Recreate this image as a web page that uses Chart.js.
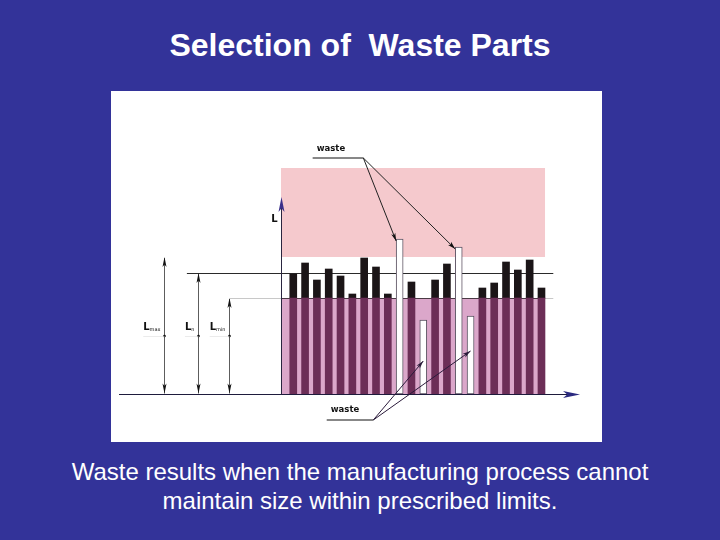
<!DOCTYPE html>
<html>
<head>
<meta charset="utf-8">
<script src="https://cdn.jsdelivr.net/npm/chart.js@4.4.0/dist/chart.umd.min.js"></script>
<style>
  html, body { margin: 0; padding: 0; }
  body { width: 720px; height: 540px; background: #333399; position: relative; overflow: hidden;
         font-family: "Liberation Sans", Arial, sans-serif; color: #fff; }
  #title { position: absolute; left: 0; top: 25px; width: 720px; text-align: center;
           font-weight: bold; font-size: 32px; line-height: 40px; white-space: pre; }
  #caption { position: absolute; left: 0; top: 457px; width: 720px; text-align: center;
             font-size: 24px; line-height: 29px; }
  #panel { position: absolute; left: 111px; top: 91px; width: 491px; height: 351px; background: #fff; }
</style>
</head>
<body>
<div id="title">Selection of  Waste Parts</div>
<div id="panel"><canvas id="parts" width="491" height="351"></canvas></div>
<div id="caption">Waste results when the manufacturing process cannot<br>maintain size within prescribed limits.</div>
<script>
// measured size L of each part, in order of production
const PARTS = ["1", "2", "3", "4", "5", "6", "7", "8", "9", "10", "11",
  "12", "13", "14", "15", "16", "17", "18", "19", "20", "21", "22"];
const SIZES = [120, 131, 114, 125, 118, 100, 136, 127, 100, 155, 112,
  74, 114, 130, 147, 78, 106, 111, 132, 124, 134, 106];

// tolerance limits
const L_MIN = 96;
const L_N = 121;
const L_MAX = 137;
const L_TOP = 226;

const isWaste = (v) => v < L_MIN || v > L_MAX;
const good = SIZES.map((v, i) => ({ v, i })).filter((p) => !isWaste(p.v));
const waste = SIZES.map((v, i) => ({ v, i })).filter((p) => isWaste(p.v));

const ZONE_X0 = -1.04;
const ZONE_X1 = 21.3;

function arrowHead(ctx, x1, y1, x2, y2, len, half, color) {
  const a = Math.atan2(y2 - y1, x2 - x1);
  ctx.save();
  ctx.translate(x2, y2);
  ctx.rotate(a);
  ctx.fillStyle = color;
  ctx.beginPath();
  ctx.moveTo(0, 0);
  ctx.lineTo(-len, -half);
  ctx.lineTo(-len * 0.75, 0);
  ctx.lineTo(-len, half);
  ctx.closePath();
  ctx.fill();
  ctx.restore();
}

function line(ctx, x1, y1, x2, y2, color, w) {
  ctx.strokeStyle = color;
  ctx.lineWidth = w || 1;
  ctx.beginPath();
  ctx.moveTo(x1, y1);
  ctx.lineTo(x2, y2);
  ctx.stroke();
}

const sketch = {
  id: "sketch",
  beforeDatasetsDraw(chart) {
    const { ctx } = chart;
    const x = chart.scales.x, y = chart.scales.y;
    const x0 = x.getPixelForValue(ZONE_X0), x1 = x.getPixelForValue(ZONE_X1);
    ctx.save();
    // over-size zone
    ctx.fillStyle = "#f5c9cd";
    ctx.fillRect(x0, y.getPixelForValue(L_TOP), x1 - x0, y.getPixelForValue(L_MAX) - y.getPixelForValue(L_TOP));
    // under-size zone
    ctx.fillStyle = "#dba7ca";
    ctx.fillRect(x0, y.getPixelForValue(L_MIN), x1 - x0, y.getPixelForValue(0) - y.getPixelForValue(L_MIN));
    // nominal and min lines
    const yn = Math.round(y.getPixelForValue(L_N)) + 0.5;
    line(ctx, x.getPixelForValue(-9), yn, x.getPixelForValue(22), yn, "#2a2a2a", 1);
    const ym = Math.round(y.getPixelForValue(L_MIN)) + 0.5;
    line(ctx, x.getPixelForValue(-5.35), ym, x.getPixelForValue(22), ym, "#c8c8c8", 1);
    line(ctx, x0, ym, x1, ym, "#4a3a44", 1);
    ctx.restore();
  },
  afterDatasetsDraw(chart) {
    const { ctx } = chart;
    const x = chart.scales.x, y = chart.scales.y;
    const y0 = Math.round(y.getPixelForValue(0)) + 0.5;
    ctx.save();
    // base line with arrow
    const bx0 = x.getPixelForValue(-14.74), bx1 = x.getPixelForValue(24.26);
    line(ctx, bx0, y0, bx1 - 8, y0, "#1e1b3c", 1.2);
    arrowHead(ctx, bx0, y0, bx1, y0, 17, 3.5, "#2b2a80");
    // L axis with arrow
    const ax = Math.round(x.getPixelForValue(ZONE_X0)) + 0.5;
    const ayTop = y.getPixelForValue(197);
    line(ctx, ax, y0, ax, ayTop + 6, "#2a2540", 1);
    arrowHead(ctx, ax, y0, ax, ayTop, 15, 3, "#3a2f8a");
    ctx.fillStyle = "#111";
    ctx.font = "bold 10px 'DejaVu Sans'";
    ctx.textAlign = "right";
    ctx.textBaseline = "alphabetic";
    ctx.fillText("L", ax - 4, y.getPixelForValue(172));

    // dimension arrows
    const dims = [
      { at: -10.91, top: L_MAX, sub: "max" },
      { at: -8.09, top: L_N, sub: "n" },
      { at: -5.44, top: L_MIN, sub: "min" },
    ];
    dims.forEach((d) => {
      const dx = Math.round(x.getPixelForValue(d.at)) + 0.5;
      const dt = y.getPixelForValue(d.top);
      line(ctx, dx, y0 - 1, dx, dt + 1, "#333", 0.8);
      arrowHead(ctx, dx, y0, dx, dt, 10, 2, "#111");
      arrowHead(ctx, dx, dt, dx, y0 - 1, 10, 2, "#111");
      const dy = y.getPixelForValue(58);
      ctx.fillStyle = "#111";
      ctx.beginPath();
      ctx.arc(dx, dy, 1.3, 0, Math.PI * 2);
      ctx.fill();
      ctx.font = "5px 'DejaVu Sans'";
      const sw = ctx.measureText(d.sub).width;
      ctx.font = "bold 10px 'DejaVu Sans'";
      const lw = ctx.measureText("L").width;
      const right = dx - 4;
      ctx.textAlign = "left";
      ctx.fillText("L", right - sw - lw, dy - 6);
      ctx.font = "5px 'DejaVu Sans'";
      ctx.fillText(d.sub, right - sw, dy - 5);
      line(ctx, right - sw - lw, dy + 0.5, dx, dy + 0.5, "#dddddd", 0.6);
    });

    // waste callouts
    const bw = 3.5;
    const top = [9, 14].map((i) => [x.getPixelForValue(i) - bw, y.getPixelForValue(SIZES[i]) + 2]);
    const hubT = [x.getPixelForValue(5.93), y.getPixelForValue(236)];
    line(ctx, x.getPixelForValue(1.64), hubT[1], hubT[0], hubT[1], "#111", 1);
    top.forEach((p) => {
      line(ctx, hubT[0], hubT[1], p[0], p[1], "#222", 1);
      arrowHead(ctx, hubT[0], hubT[1], p[0], p[1], 8, 2.2, "#111");
    });
    const bottom = [[11, 33], [15, 43]].map((t) => [x.getPixelForValue(t[0]), y.getPixelForValue(t[1])]);
    const hubB = [x.getPixelForValue(6.77), y.getPixelForValue(-26)];
    line(ctx, x.getPixelForValue(2.83), hubB[1], hubB[0], hubB[1], "#111", 1);
    bottom.forEach((p) => {
      line(ctx, hubB[0], hubB[1], p[0], p[1], "#2a1a3a", 1);
      arrowHead(ctx, hubB[0], hubB[1], p[0], p[1], 8, 2.2, "#2a1a3a");
    });
    ctx.fillStyle = "#111";
    ctx.font = "bold 8.5px 'DejaVu Sans'";
    ctx.textAlign = "left";
    ctx.textBaseline = "middle";
    ctx.fillText("waste", x.getPixelForValue(1.98), y.getPixelForValue(245));
    ctx.fillText("waste", x.getPixelForValue(3.17), y.getPixelForValue(-16));
    ctx.restore();
  },
};

new Chart(document.getElementById("parts"), {
  type: "bar",
  data: {
    labels: PARTS,
    datasets: [
      {
        label: "within limits (below Lmin)",
        data: good.map((p) => ({ x: p.i, y: [0, Math.min(p.v, L_MIN)] })),
        backgroundColor: "#6c2e57",
        grouped: false,
        barThickness: 7,
      },
      {
        label: "within limits (above Lmin)",
        data: good.filter((p) => p.v > L_MIN).map((p) => ({ x: p.i, y: [L_MIN, p.v] })),
        backgroundColor: "#1b1517",
        grouped: false,
        barThickness: 7,
      },
      {
        label: "waste",
        data: waste.map((p) => ({ x: p.i, y: [0, p.v] })),
        backgroundColor: "#ffffff",
        borderColor: "#5a5060",
        borderWidth: 1,
        borderSkipped: false,
        grouped: false,
        barThickness: 7,
      },
    ],
  },
  options: {
    responsive: false,
    animation: false,
    layout: { padding: 0 },
    plugins: { legend: { display: false }, tooltip: { enabled: false }, title: { display: false } },
    scales: {
      x: { type: "linear", offset: false, min: -15.42, max: 26.12, display: false },
      y: { min: -48, max: 303, display: false },
    },
  },
  plugins: [sketch],
});
</script>
</body>
</html>
